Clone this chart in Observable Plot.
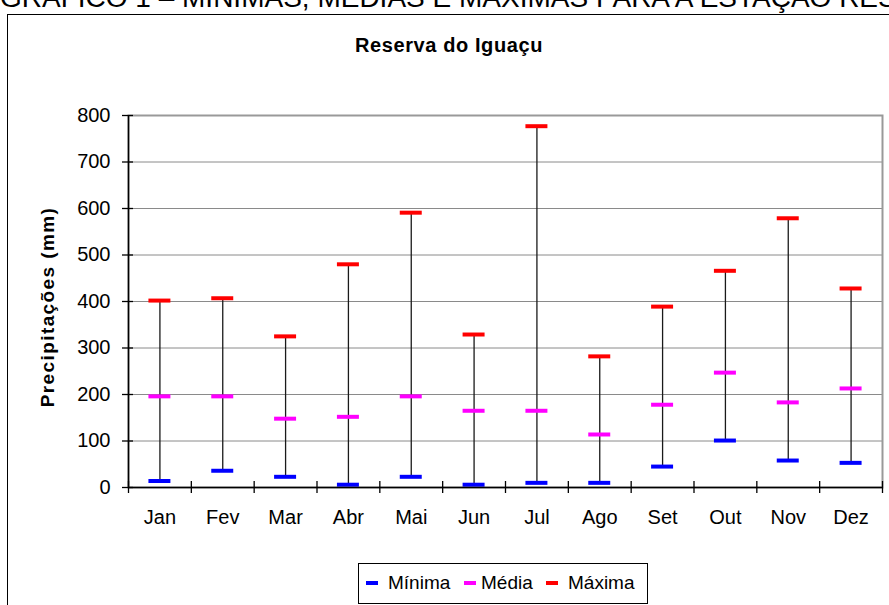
<!DOCTYPE html>
<html>
<head>
<meta charset="utf-8">
<script src="https://cdn.jsdelivr.net/npm/d3@7"></script>
<script src="https://cdn.jsdelivr.net/npm/@observablehq/plot@0.6"></script>
<style>
  html, body { margin: 0; padding: 0; background: #fff; }
  #wrap { position: relative; width: 889px; height: 605px; overflow: hidden; font-family: "Liberation Sans", Arial, sans-serif; color: #000; }
  #wrap svg { position: absolute; left: 0; top: 0; }
  .abs { position: absolute; white-space: nowrap; }
</style>
</head>
<body>
<div id="wrap">
  <div class="abs" id="caption" style="left:0px; top:-16px; font-size:28px; line-height:28px;">GRÁFICO 1 – MÍNIMAS, MÉDIAS E MÁXIMAS PARA A ESTAÇÃO RESERVA DO IGUAÇU</div>
  <div class="abs" style="left:7px; top:14px; width:900px; height:620px; border:1px solid #000; box-sizing:border-box;"></div>
  <div class="abs" id="title" style="left:0; width:898px; top:34px; text-align:center; font-size:20px; font-weight:bold; letter-spacing:0.6px;">Reserva do Iguaçu</div>
  <div class="abs" id="ylabel" style="left:48px; top:307px; font-size:19px; font-weight:bold; letter-spacing:1.4px; transform: translate(-50%,-50%) rotate(-90deg);">Precipitações (mm)</div>
  <div id="chart"></div>
  <div class="abs" id="legend" style="left:358px; top:563px; width:290px; height:41px; border:1px solid #000; box-sizing:border-box; font-size:19px;"></div>
</div>
<script>
const months = ["Jan","Fev","Mar","Abr","Mai","Jun","Jul","Ago","Set","Out","Nov","Dez"];
const minima = [14, 36, 23, 6, 23, 6, 10, 10, 45, 101, 58, 53];
const media  = [196, 196, 148, 152, 196, 165, 165, 114, 178, 247, 183, 213];
const maxima = [402, 407, 325, 480, 591, 329, 777, 282, 389, 466, 579, 428];
const yTicks = [0, 100, 200, 300, 400, 500, 600, 700, 800];
const seriesNames = ["Mínima", "Média", "Máxima"];
const seriesColors = ["#0000ff", "#ff00ff", "#ff0000"];

const rows = months.map((m, i) => ({month: m, i, min: minima[i], mean: media[i], max: maxima[i]}));
const centers = months.map((m, i) => i + 0.5);
const bounds = d3.range(0, months.length + 1);
const hw = 0.175;

const W = 889, H = 605;
const mL = 128, mR = 7, mT = 115, mB = 118;
const plotW = W - mL - mR, plotH = H - mT - mB;

const dash = (key, color) => Plot.ruleY(rows, {
  y: key, x1: d => d.i + 0.5 - hw, x2: d => d.i + 0.5 + hw,
  stroke: color, strokeWidth: 4
});

const chart = Plot.plot({
  width: W, height: H,
  marginLeft: mL, marginRight: mR, marginTop: mT, marginBottom: mB,
  style: {fontFamily: "'Liberation Sans', Arial, sans-serif", fontSize: "20px", background: "transparent", color: "#000"},
  x: {type: "linear", domain: [0, months.length]},
  y: {domain: [0, 800]},
  marks: [
    Plot.gridY(yTicks, {stroke: "#8a8a8a", strokeOpacity: 1, strokeWidth: 1}),
    Plot.frame({stroke: "#999", strokeWidth: 2}),
    Plot.ruleX(rows, {x: d => d.i + 0.5, y1: "min", y2: "max", stroke: "#1a1a1a", strokeWidth: 1.3}),
    dash("min", seriesColors[0]),
    dash("mean", seriesColors[1]),
    dash("max", seriesColors[2]),
    Plot.ruleX([0], {stroke: "#000", strokeWidth: 1.5}),
    Plot.ruleY([0], {stroke: "#000", strokeWidth: 1.5}),
    Plot.axisY({ticks: yTicks, tickSize: 6, tickPadding: 12, label: null, stroke: "#000", strokeWidth: 1.3, fontSize: 20}),
    Plot.tickY(yTicks, {y: d => d, insetRight: plotW - 5, stroke: "#000", strokeWidth: 1.3}),
    Plot.axisX({ticks: bounds, tickSize: 6, tickFormat: () => "", label: null, stroke: "#000", strokeWidth: 1.3}),
    Plot.tickX(bounds, {x: d => d, insetTop: plotH - 6, stroke: "#000", strokeWidth: 1.3}),
    Plot.axisX({ticks: centers, tickSize: 0, tickPadding: 22, tickFormat: d => months[Math.floor(d)], label: null, fontSize: 20})
  ]
});
document.getElementById("chart").appendChild(chart);

const legend = document.getElementById("legend");
const items = [
  {name: seriesNames[0], color: seriesColors[0], dx: 7,   tx: 29},
  {name: seriesNames[1], color: seriesColors[1], dx: 105, tx: 122},
  {name: seriesNames[2], color: seriesColors[2], dx: 187, tx: 209}
];
for (const it of items) {
  const d = document.createElement("div");
  d.className = "abs";
  d.style.cssText = `left:${it.dx}px; top:17px; width:12px; height:4px; background:${it.color};`;
  legend.appendChild(d);
  const t = document.createElement("div");
  t.className = "abs";
  t.style.cssText = `left:${it.tx}px; top:8px; line-height:22px;`;
  t.textContent = it.name;
  legend.appendChild(t);
}
</script>
</body>
</html>
